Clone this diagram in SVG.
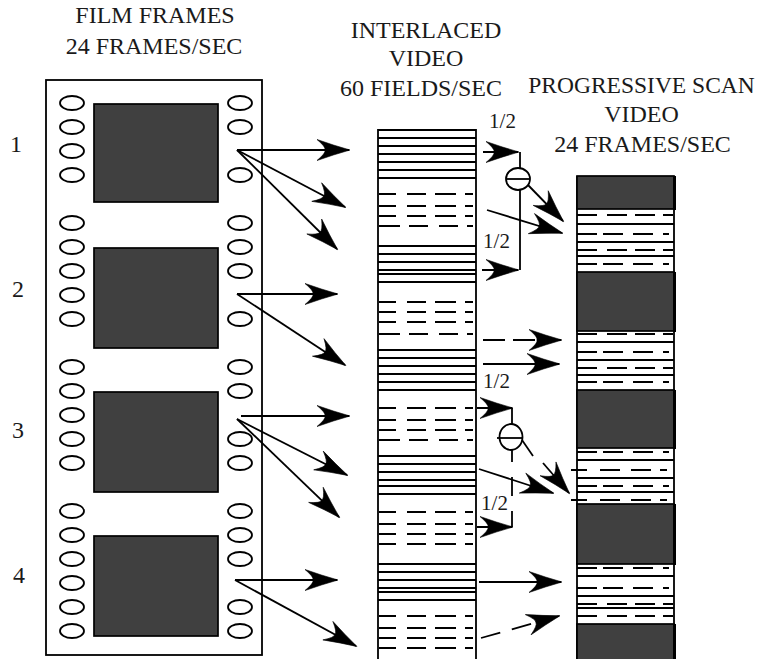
<svg xmlns="http://www.w3.org/2000/svg" width="757" height="659" viewBox="0 0 757 659">
<style>
text{font-family:"Liberation Serif","Times New Roman",serif;font-size:24px;fill:#1a1a1a;text-anchor:middle}
.narrow{font-size:21px}
.prog{font-size:23.500px}
.frame{fill:#404040;stroke:#000;stroke-width:1.7}
.hole{fill:#fff;stroke:#000;stroke-width:1.8}
.film{fill:#fff;stroke:#000;stroke-width:1.8}
.edge{stroke:#000;stroke-width:1.8;fill:none}
line{stroke:#000;stroke-width:1.8}
.a{marker-end:url(#ah)}
.d1{stroke-dasharray:17 11 19 9 21 9 8}
.d2{stroke-dasharray:21 9 19 11 19 9 6}
.d3{stroke-dasharray:20 10 20 8 20 8 10}
.d4{stroke-dasharray:20 6 20 10 20 10 6}
.d5{stroke-dasharray:16 13 20 11 20 9 7}
.thick{fill:#000}
</style>
<defs>
<marker id="ah" markerUnits="userSpaceOnUse" markerWidth="38" markerHeight="24" refX="35" refY="12" orient="auto" viewBox="0 0 38 24">
<path d="M36 12Q20 7.500 3 1.500Q12 9 11 12Q12 15 3 22.500Q20 16.500 36 12Z" fill="#000" stroke="#000" stroke-width="0.6"/>
</marker>
</defs>

<g id="title-film"><text x="155" y="23">FILM FRAMES</text><text x="154" y="54">24 FRAMES/SEC</text></g>
<g id="title-interlaced"><text x="426" y="38">INTERLACED</text><text x="426" y="66">VIDEO</text><text x="421" y="96">60 FIELDS/SEC</text></g>
<g id="title-progressive"><text class="prog" x="641.500" y="93">PROGRESSIVE SCAN</text><text x="641.500" y="122">VIDEO</text><text x="642.500" y="152">24 FRAMES/SEC</text></g>

<g id="frame-numbers"><text x="16" y="152">1</text><text x="18" y="297">2</text><text x="18" y="438">3</text><text x="19" y="583">4</text></g>

<g id="film-strip">
<rect class="film" x="46" y="80" width="216" height="575"/>
<g id="film-frame-1"><rect class="frame" x="94" y="104" width="124" height="98"/></g>
<g id="film-frame-2"><rect class="frame" x="94" y="248" width="124" height="100"/></g>
<g id="film-frame-3"><rect class="frame" x="94" y="392" width="124" height="100"/></g>
<g id="film-frame-4"><rect class="frame" x="94" y="536" width="124" height="100"/></g>
<g id="holes-left">
<ellipse class="hole" cx="72" cy="103" rx="12" ry="7"/><ellipse class="hole" cx="72" cy="127" rx="12" ry="7"/><ellipse class="hole" cx="72" cy="151" rx="12" ry="7"/><ellipse class="hole" cx="72" cy="175" rx="12" ry="7"/>
<ellipse class="hole" cx="72" cy="223" rx="12" ry="7"/><ellipse class="hole" cx="72" cy="247" rx="12" ry="7"/><ellipse class="hole" cx="72" cy="271" rx="12" ry="7"/><ellipse class="hole" cx="72" cy="295" rx="12" ry="7"/><ellipse class="hole" cx="72" cy="319" rx="12" ry="7"/>
<ellipse class="hole" cx="72" cy="367" rx="12" ry="7"/><ellipse class="hole" cx="72" cy="391" rx="12" ry="7"/><ellipse class="hole" cx="72" cy="415" rx="12" ry="7"/><ellipse class="hole" cx="72" cy="439" rx="12" ry="7"/><ellipse class="hole" cx="72" cy="463" rx="12" ry="7"/>
<ellipse class="hole" cx="72" cy="511" rx="12" ry="7"/><ellipse class="hole" cx="72" cy="535" rx="12" ry="7"/><ellipse class="hole" cx="72" cy="559" rx="12" ry="7"/><ellipse class="hole" cx="72" cy="583" rx="12" ry="7"/><ellipse class="hole" cx="72" cy="607" rx="12" ry="7"/><ellipse class="hole" cx="72" cy="631" rx="12" ry="7"/>
</g>
<g id="holes-right">
<ellipse class="hole" cx="240" cy="103" rx="12" ry="7"/><ellipse class="hole" cx="240" cy="127" rx="12" ry="7"/><ellipse class="hole" cx="240" cy="175" rx="12" ry="7"/>
<ellipse class="hole" cx="240" cy="223" rx="12" ry="7"/><ellipse class="hole" cx="240" cy="247" rx="12" ry="7"/><ellipse class="hole" cx="240" cy="271" rx="12" ry="7"/><ellipse class="hole" cx="240" cy="319" rx="12" ry="7"/>
<ellipse class="hole" cx="240" cy="367" rx="12" ry="7"/><ellipse class="hole" cx="240" cy="391" rx="12" ry="7"/><ellipse class="hole" cx="240" cy="439" rx="12" ry="7"/><ellipse class="hole" cx="240" cy="463" rx="12" ry="7"/>
<ellipse class="hole" cx="240" cy="511" rx="12" ry="7"/><ellipse class="hole" cx="240" cy="535" rx="12" ry="7"/><ellipse class="hole" cx="240" cy="559" rx="12" ry="7"/><ellipse class="hole" cx="240" cy="607" rx="12" ry="7"/><ellipse class="hole" cx="240" cy="631" rx="12" ry="7"/>
</g>
</g>

<g id="interlaced-column">
<path class="edge" d="M378 659V130H476V659"/>
<g id="interlaced-solid">
<line x1="378" x2="476" y1="138" y2="138"/><line x1="378" x2="476" y1="146" y2="146"/><line x1="378" x2="476" y1="154" y2="154"/><line x1="378" x2="476" y1="162" y2="162"/><line x1="378" x2="476" y1="170" y2="170"/><line x1="378" x2="476" y1="178" y2="178"/>
<line x1="378" x2="476" y1="246" y2="246"/><line x1="378" x2="476" y1="254" y2="254"/><line x1="378" x2="476" y1="262" y2="262"/><line x1="378" x2="476" y1="270" y2="270"/><line x1="378" x2="476" y1="274" y2="274"/><line x1="378" x2="476" y1="282" y2="282"/>
<line x1="378" x2="476" y1="350" y2="350"/><line x1="378" x2="476" y1="358" y2="358"/><line x1="378" x2="476" y1="366" y2="366"/><line x1="378" x2="476" y1="374" y2="374"/><line x1="378" x2="476" y1="382" y2="382"/><line x1="378" x2="476" y1="390" y2="390"/>
<line x1="378" x2="476" y1="456" y2="456"/><line x1="378" x2="476" y1="464" y2="464"/><line x1="378" x2="476" y1="472" y2="472"/><line x1="378" x2="476" y1="480" y2="480"/><line x1="378" x2="476" y1="486" y2="486"/><line x1="378" x2="476" y1="494" y2="494"/>
<line x1="378" x2="476" y1="564" y2="564"/><line x1="378" x2="476" y1="572" y2="572"/><line x1="378" x2="476" y1="580" y2="580"/><line x1="378" x2="476" y1="588" y2="588"/><line x1="378" x2="476" y1="592" y2="592"/><line x1="378" x2="476" y1="600" y2="600"/>
</g>
<g id="interlaced-dashed">
<line class="d1" x1="379" x2="474" y1="194" y2="194"/><line class="d1" x1="379" x2="474" y1="206" y2="206"/><line class="d1" x1="379" x2="474" y1="216" y2="216"/><line class="d2" x1="379" x2="474" y1="226" y2="226"/>
<line class="d1" x1="379" x2="474" y1="302" y2="302"/><line class="d1" x1="379" x2="474" y1="312" y2="312"/><line class="d1" x1="379" x2="474" y1="322" y2="322"/><line class="d2" x1="379" x2="474" y1="334" y2="334"/>
<line class="d1" x1="379" x2="474" y1="408" y2="408"/><line class="d1" x1="379" x2="474" y1="420" y2="420"/><line class="d1" x1="379" x2="474" y1="430" y2="430"/><line class="d2" x1="379" x2="474" y1="440" y2="440"/>
<line class="d1" x1="379" x2="474" y1="512" y2="512"/><line class="d1" x1="379" x2="474" y1="524" y2="524"/><line class="d1" x1="379" x2="474" y1="534" y2="534"/><line class="d1" x1="379" x2="474" y1="544" y2="544"/>
<line class="d1" x1="379" x2="474" y1="616" y2="616"/><line class="d1" x1="379" x2="474" y1="628" y2="628"/><line class="d1" x1="379" x2="474" y1="638" y2="638"/><line class="d1" x1="379" x2="474" y1="648" y2="648"/>
</g>
</g>

<g id="progressive-column">
<path class="edge" d="M577 176V659M674 176V659"/>
<g id="progressive-solid">
<line x1="577" x2="674" y1="224" y2="224"/><line x1="577" x2="674" y1="242" y2="242"/><line x1="577" x2="674" y1="256" y2="256"/>
<line x1="577" x2="674" y1="342" y2="342"/><line x1="577" x2="674" y1="360" y2="360"/><line x1="577" x2="674" y1="375" y2="375"/>
<line x1="577" x2="674" y1="460" y2="460"/><line x1="577" x2="674" y1="478" y2="478"/><line x1="577" x2="674" y1="492" y2="492"/>
<line x1="577" x2="674" y1="576" y2="576"/><line x1="577" x2="674" y1="596" y2="596"/><line x1="577" x2="674" y1="608" y2="608"/>
</g>
<g id="progressive-dashed">
<line class="d3" x1="577" x2="674" y1="215" y2="215"/><line class="d4" x1="577" x2="670" y1="234" y2="234"/><line class="d3" x1="577" x2="674" y1="250" y2="250"/><line class="d4" x1="577" x2="670" y1="264" y2="264"/>
<line class="d3" x1="577" x2="674" y1="334" y2="334"/><line class="d4" x1="577" x2="670" y1="352" y2="352"/><line class="d3" x1="577" x2="674" y1="368" y2="368"/><line class="d4" x1="577" x2="670" y1="382" y2="382"/>
<line class="d4" x1="577" x2="670" y1="452" y2="452"/><line class="d5" x1="571" x2="667" y1="470" y2="470"/><line class="d4" x1="577" x2="670" y1="486" y2="486"/><line class="d5" x1="571" x2="667" y1="500" y2="500"/>
<line class="d4" x1="577" x2="670" y1="568" y2="568"/><line class="d4" x1="577" x2="670" y1="588" y2="588"/><line class="d3" x1="577" x2="674" y1="604" y2="604"/><line class="d3" x1="577" x2="674" y1="616" y2="616"/>
</g>
<g id="progressive-frames">
<rect class="frame" x="577" y="176" width="97" height="33"/><rect class="thick" x="673" y="176" width="3" height="34"/>
<rect class="frame" x="577" y="272" width="97" height="59"/><rect class="thick" x="673" y="272" width="3" height="60"/>
<rect class="frame" x="577" y="390" width="97" height="58"/><rect class="thick" x="673" y="390" width="3" height="59"/>
<rect class="frame" x="577" y="504" width="97" height="60"/><rect class="thick" x="673" y="504" width="3" height="61"/>
<rect class="frame" x="577" y="624" width="97" height="36"/><rect class="thick" x="673" y="624" width="3" height="36"/>
</g>
</g>

<g id="connectors">
<line class="a" x1="237" y1="150" x2="349" y2="150"/>
<line class="a" x1="237" y1="150" x2="345" y2="207"/>
<line class="a" x1="237" y1="150" x2="337" y2="249"/>
<line class="a" x1="237" y1="294" x2="337" y2="294"/>
<line class="a" x1="237" y1="294" x2="345" y2="365"/>
<line class="a" x1="241" y1="416" x2="349" y2="416"/>
<line class="a" x1="237" y1="419" x2="347" y2="475"/>
<line class="a" x1="237" y1="419" x2="339" y2="517"/>
<line class="a" x1="235" y1="580" x2="337" y2="580"/>
<line class="a" x1="235" y1="580" x2="356" y2="646"/>
<path class="edge" d="M520 152V168M520 190V270"/>
<line class="a" x1="483" y1="152" x2="518" y2="152"/>
<line class="a" x1="482" y1="270" x2="518" y2="270"/>
<line class="a" x1="528" y1="185" x2="563" y2="221"/>
<line class="a" x1="487" y1="210" x2="562" y2="233"/>
<line class="a" style="stroke-dasharray:22 8" x1="483" y1="340" x2="561" y2="340"/>
<line class="a" x1="483" y1="364" x2="559" y2="364"/>
<path class="edge" d="M512 408V424M512 450V462M512 477V496M512 511V527"/>
<line class="a" x1="477" y1="408" x2="512" y2="408"/>
<line class="a" x1="477" y1="527" x2="512" y2="527"/>
<line x1="522" y1="440" x2="533" y2="456"/>
<line class="a" x1="543" y1="463" x2="569" y2="493"/>
<line class="a" x1="479" y1="469" x2="553" y2="493"/>
<line class="a" x1="479" y1="582" x2="561" y2="582"/>
<line class="a" style="stroke-dasharray:20 12" x1="481" y1="638" x2="559" y2="616"/>
</g>

<g id="combiner-1"><ellipse class="hole" cx="518" cy="179" rx="12" ry="11"/><line x1="506" y1="179" x2="530" y2="179"/></g>
<g id="combiner-2"><ellipse class="hole" cx="511" cy="437" rx="11.500" ry="13"/><line x1="497" y1="438" x2="522" y2="438"/></g>

<g id="labels"><text x="502.500" y="128" class="narrow">1/2</text><text x="496.500" y="248" class="narrow">1/2</text><text x="496.500" y="388" class="narrow">1/2</text><text x="494.500" y="510" class="narrow">1/2</text></g>
</svg>
